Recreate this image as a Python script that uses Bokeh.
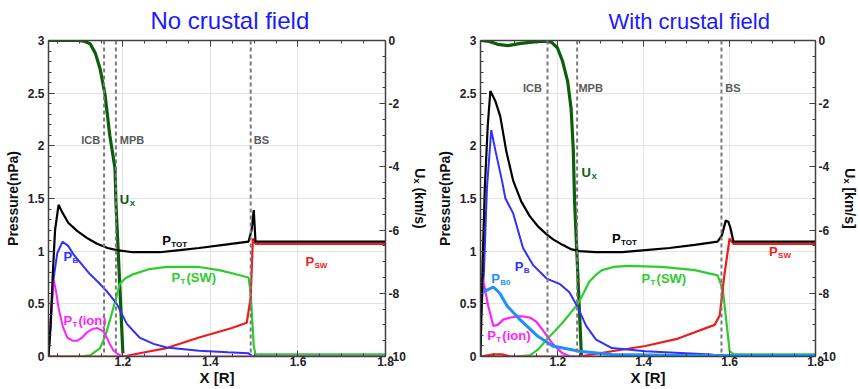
import math
from bokeh.plotting import figure
from bokeh.models import (Range1d, LinearAxis, SingleIntervalTicker, Span,
                          CustomJSTickFormatter, Grid)
from bokeh.layouts import row
from bokeh.core.properties import value
from bokeh.embed import file_html
from bokeh.resources import INLINE

# ---------------- data: no crustal field ----------------
nc_ptot_x = [1.03, 1.035, 1.04, 1.045, 1.053, 1.06, 1.075, 1.096, 1.12, 1.141, 1.165, 1.186,
             1.223, 1.284, 1.33, 1.374, 1.43, 1.487, 1.494, 1.499, 1.503, 1.51, 1.8]
nc_ptot = [0.0, 0.3, 0.8, 1.2, 1.44, 1.38, 1.27, 1.19, 1.12, 1.07, 1.03, 1.01,
           0.99, 0.99, 1.01, 1.03, 1.06, 1.09, 1.2, 1.39, 1.09, 1.09, 1.09]
nc_pb_x = [1.03, 1.035, 1.041, 1.05, 1.062, 1.075, 1.087, 1.105, 1.125, 1.145, 1.163, 1.186,
           1.209, 1.238, 1.27, 1.3, 1.374, 1.44, 1.487, 1.497, 1.8]
nc_pb = [0.0, 0.35, 0.72, 0.98, 1.09, 1.05, 0.97, 0.88, 0.78, 0.7, 0.62, 0.5,
         0.31, 0.18, 0.12, 0.085, 0.055, 0.04, 0.03, 0.0, 0.0]
nc_pion_x = [1.03, 1.036, 1.042, 1.048, 1.053, 1.063, 1.073, 1.085, 1.096, 1.107, 1.118, 1.13,
             1.141, 1.155, 1.163, 1.17, 1.178, 1.186, 1.2, 1.8]
nc_pion = [0.0, 0.4, 0.73, 0.6, 0.46, 0.28, 0.18, 0.15, 0.15, 0.18, 0.23, 0.26,
           0.27, 0.24, 0.18, 0.12, 0.06, 0.03, 0.0, 0.0]
nc_ptsw_x = [1.03, 1.1, 1.125, 1.148, 1.16, 1.17, 1.182, 1.193, 1.205, 1.223, 1.261, 1.3,
             1.374, 1.42, 1.449, 1.487, 1.492, 1.499, 1.503, 1.8]
nc_ptsw = [0.0, 0.0, 0.01, 0.08, 0.2, 0.34, 0.52, 0.69, 0.74, 0.78, 0.83, 0.85,
           0.85, 0.82, 0.79, 0.75, 0.6, 0.1, 0.02, 0.02]
nc_psw_x = [1.03, 1.2, 1.25, 1.3, 1.374, 1.449, 1.483, 1.492, 1.497, 1.503, 1.8]
nc_psw = [0.0, 0.0, 0.04, 0.08, 0.18, 0.27, 0.32, 0.56, 1.12, 1.07, 1.07]
nc_ux_x = [1.03, 1.1, 1.113, 1.125, 1.137, 1.148, 1.159, 1.17, 1.182, 1.184, 1.2]
nc_ux = [0.0, 0.0, -0.03, -0.1, -0.4, -0.9, -1.7, -3.0, -4.05, -5.1, -9.9]
nc_bounds = [1.157, 1.184, 1.492]

# ---------------- data: with crustal field ----------------
wc_ptot_x = [1.02, 1.025, 1.03, 1.037, 1.043, 1.055, 1.066, 1.08, 1.096, 1.115, 1.135, 1.155,
             1.174, 1.19, 1.211, 1.23, 1.25, 1.289, 1.35, 1.404, 1.46, 1.519, 1.572, 1.582,
             1.591, 1.597, 1.602, 1.609, 1.8]
wc_ptot = [0.0, 0.9, 1.6, 2.2, 2.52, 2.42, 2.28, 1.95, 1.67, 1.47, 1.33, 1.23,
           1.16, 1.11, 1.06, 1.02, 1.0, 0.99, 0.99, 1.01, 1.03, 1.06, 1.09, 1.15,
           1.29, 1.28, 1.22, 1.09, 1.09]
wc_pb_x = [1.02, 1.028, 1.035, 1.045, 1.055, 1.07, 1.078, 1.096, 1.119, 1.142, 1.174, 1.204,
           1.227, 1.245, 1.266, 1.289, 1.326, 1.404, 1.556, 1.59, 1.8]
wc_pb = [0.3, 0.8, 1.6, 2.15, 1.95, 1.67, 1.5, 1.36, 1.03, 0.87, 0.74, 0.69,
         0.61, 0.48, 0.29, 0.16, 0.08, 0.05, 0.02, 0.0, 0.0]
wc_pb0_x = [1.02, 1.025, 1.035, 1.05, 1.065, 1.082, 1.112, 1.151, 1.188, 1.25, 1.326, 1.5, 1.8]
wc_pb0 = [0.63, 0.61, 0.63, 0.66, 0.6, 0.48, 0.35, 0.2, 0.1, 0.05, 0.02, 0.01, 0.01]
wc_pion_x = [1.02, 1.024, 1.03, 1.038, 1.05, 1.06, 1.073, 1.09, 1.105, 1.12, 1.135, 1.15,
             1.165, 1.188, 1.211, 1.23, 1.8]
wc_pion = [0.3, 0.75, 0.65, 0.48, 0.29, 0.3, 0.35, 0.37, 0.38, 0.38, 0.37, 0.33,
           0.25, 0.12, 0.03, 0.0, 0.0]
wc_ptsw_x = [1.02, 1.1, 1.135, 1.155, 1.174, 1.211, 1.245, 1.26, 1.273, 1.29, 1.303, 1.33,
             1.365, 1.441, 1.519, 1.572, 1.584, 1.592, 1.6, 1.61, 1.8]
wc_ptsw = [0.0, 0.0, 0.01, 0.07, 0.16, 0.32, 0.49, 0.6, 0.71, 0.78, 0.82, 0.85,
           0.86, 0.85, 0.82, 0.77, 0.64, 0.35, 0.05, 0.02, 0.02]
wc_psw_x = [1.02, 1.05, 1.07, 1.09, 1.25, 1.326, 1.404, 1.48, 1.565, 1.577, 1.588, 1.6, 1.609, 1.8]
wc_psw = [0.0, 0.02, 0.02, 0.0, 0.0, 0.05, 0.1, 0.17, 0.3, 0.39, 0.78, 1.12, 1.07, 1.07]
wc_ux_x = [1.02, 1.04, 1.06, 1.084, 1.11, 1.14, 1.165, 1.185, 1.199, 1.211, 1.223, 1.231,
           1.236, 1.239, 1.255]
wc_ux = [0.0, -0.03, -0.12, -0.16, -0.1, -0.05, -0.02, -0.05, -0.23, -0.65, -1.3, -2.16,
         -3.45, -5.06, -10.0]
wc_bounds = [1.176, 1.245, 1.581]

boundary_names = ["ICB", "MPB", "BS"]

FONT = "Liberation Sans"
C_TOT, C_B, C_B0, C_ION, C_TSW, C_SW, C_UX = ("#000000", "#3030ff", "#1e8fff", "#ff22ff",
                                              "#2ecc2e", "#ee1c1c", "#0b5e0b")


def fmt():
    return CustomJSTickFormatter(
        code="var v = Math.round(Math.abs(tick)*100)/100; return (tick < -1e-9 ? '-' : '') + String(v);")


def style_axis(ax):
    ax.axis_line_color = "#404040"
    ax.axis_line_width = 1.5
    ax.major_tick_in = 6
    ax.major_tick_out = 0
    ax.minor_tick_in = 3
    ax.minor_tick_out = 0
    ax.major_tick_line_color = "#404040"
    ax.minor_tick_line_color = "#404040"
    ax.major_label_text_font = FONT
    ax.major_label_text_font_style = "bold"
    ax.major_label_text_font_size = "12px"
    ax.major_label_text_color = "#222222"
    ax.axis_label_text_font = FONT
    ax.axis_label_text_font_style = "bold"
    ax.axis_label_text_font_size = "14px"
    ax.axis_label_text_color = "#111111"


def add_label(p, x, y, main, sub, tail, color, sub_dx):
    common = dict(text_font=value(FONT), text_font_style="bold", text_color=color,
                  text_baseline="middle", text_align="left")
    p.text(x=[x], y=[y], text=[main], text_font_size="13px", **common)
    if sub:
        p.text(x=[x], y=[y], text=[sub], text_font_size="8px", x_offset=sub_dx, y_offset=4, **common)
    if tail:
        p.text(x=[x], y=[y], text=[tail], text_font_size="13px",
               x_offset=sub_dx + 6, **common)


def build(title, x0, borders, series, ux, bounds, bnd_labels, labels, ulabel, toff, tsize):
    bl, br, bt, bb = borders
    p = figure(width=430, height=389, x_range=Range1d(x0, 1.8), y_range=Range1d(0, 3),
               output_backend="svg", toolbar_location=None,
               x_axis_type=None, y_axis_type=None, title=title,
               min_border_left=bl, min_border_right=br, min_border_top=bt,
               min_border_bottom=bb, outline_line_color=None,
               background_fill_color="white", border_fill_color="white")
    p.title.align = "left"
    p.title.offset = toff
    p.title.vertical_align = "top"
    p.title.text_font = FONT
    p.title.text_font_size = tsize
    p.title.text_font_style = "normal"
    p.title.text_color = "#1a1aff"
    p.extra_y_ranges = {"u": Range1d(-10, 0)}

    xt = SingleIntervalTicker(interval=0.2, num_minor_ticks=4)
    yt = SingleIntervalTicker(interval=0.5, num_minor_ticks=5)
    p.add_layout(Grid(dimension=0, ticker=xt, grid_line_color="#e4e4e4"))
    p.add_layout(Grid(dimension=1, ticker=yt, grid_line_color="#e4e4e4"))

    bottom = LinearAxis(ticker=xt, formatter=fmt(), axis_label="X [R]")
    left = LinearAxis(ticker=yt, formatter=fmt(), axis_label="Pressure(nPa)")
    right = LinearAxis(y_range_name="u", ticker=SingleIntervalTicker(interval=2, num_minor_ticks=4),
                       formatter=fmt(), axis_label=ulabel)
    top = LinearAxis(ticker=xt, formatter=CustomJSTickFormatter(code="return '';"))
    for ax in (bottom, left, right, top):
        style_axis(ax)
    bottom.axis_label_text_font_size = "15px"
    bottom.major_label_standoff = 0
    bottom.axis_label_standoff = 0
    left.major_label_standoff = 4
    left.axis_label_standoff = 4
    right.major_label_standoff = 3
    right.axis_label_standoff = 3
    top.major_label_standoff = 0
    top.major_label_text_font_size = "1px"
    if "axis_label_orientation" in LinearAxis.properties():
        right.axis_label_orientation = "vertical"
    p.add_layout(bottom, "below")
    p.add_layout(left, "left")
    p.add_layout(right, "right")
    p.add_layout(top, "above")

    for b in bounds:
        p.add_layout(Span(location=b, dimension="height", line_color="#7a7a7a",
                          line_dash="4 3", line_width=2))

    ux_x, ux_v = ux
    p.line(ux_x, ux_v, y_range_name="u", line_color=C_UX, line_width=3.2)
    for xs, vs, color, lw in series:
        p.line(xs, vs, line_color=color, line_width=lw)

    for (bx, by, align), name in zip(bnd_labels, boundary_names):
        p.text(x=[bx], y=[by], text=[name], text_font=value(FONT), text_font_style="bold",
               text_font_size="11px", text_color="#5a5a5a", text_baseline="middle",
               text_align=align)
    for lab in labels:
        add_label(p, *lab)
    return p


nc_series = [
    (nc_ptsw_x, nc_ptsw, C_TSW, 2.2),
    (nc_psw_x, nc_psw, C_SW, 2.2),
    (nc_pb_x, nc_pb, C_B, 2.0),
    (nc_pion_x, nc_pion, C_ION, 2.0),
    (nc_ptot_x, nc_ptot, C_TOT, 2.2),
]
wc_series = [
    (wc_ptsw_x, wc_ptsw, C_TSW, 2.2),
    (wc_psw_x, wc_psw, C_SW, 2.2),
    (wc_pb_x, wc_pb, C_B, 2.0),
    (wc_pion_x, wc_pion, C_ION, 2.2),
    (wc_pb0_x, wc_pb0, C_B0, 3.0),
    (wc_ptot_x, wc_ptot, C_TOT, 2.2),
]

nc_bnd_labels = [(1.148, 2.06, "right"), (1.193, 2.06, "left"), (1.499, 2.06, "left")]
wc_bnd_labels = [(1.163, 2.55, "right"), (1.248, 2.55, "left"), (1.59, 2.55, "left")]

nc_labels = [
    (1.193, 1.49, "U", "X", None, C_UX, 10),
    (1.29, 1.1, "P", "TOT", None, C_TOT, 9),
    (1.064, 0.95, "P", "B", None, C_B, 9),
    (1.617, 0.9, "P", "SW", None, C_SW, 9),
    (1.311, 0.75, "P", "T", "(SW)", C_TSW, 9),
    (1.064, 0.34, "P", "T", "(ion)", C_ION, 9),
]
wc_labels = [
    (1.255, 1.75, "U", "X", None, C_UX, 10),
    (1.326, 1.12, "P", "TOT", None, C_TOT, 9),
    (1.692, 1.0, "P", "SW", None, C_SW, 9),
    (1.395, 0.74, "P", "T", "(SW)", C_TSW, 9),
    (1.1, 0.85, "P", "B", None, C_B, 9),
    (1.045, 0.74, "P", "B0", None, C_B0, 9),
    (1.036, 0.2, "P", "T", "(ion)", C_ION, 9),
]

p1 = build("No crustal field", 1.03, (48, 43, 40, 33), nc_series, (nc_ux_x, nc_ux),
           nc_bounds, nc_bnd_labels, nc_labels, "Uₓ (km/s)", 102, "24px")
p2 = build("With crustal field", 1.02, (50, 40, 40, 33), wc_series, (wc_ux_x, wc_ux),
           wc_bounds, wc_bnd_labels, wc_labels, "Uₓ [km/s]", 128, "22px")

layout = row(p1, p2)
open("out.html", "w").write(file_html(layout, INLINE))
